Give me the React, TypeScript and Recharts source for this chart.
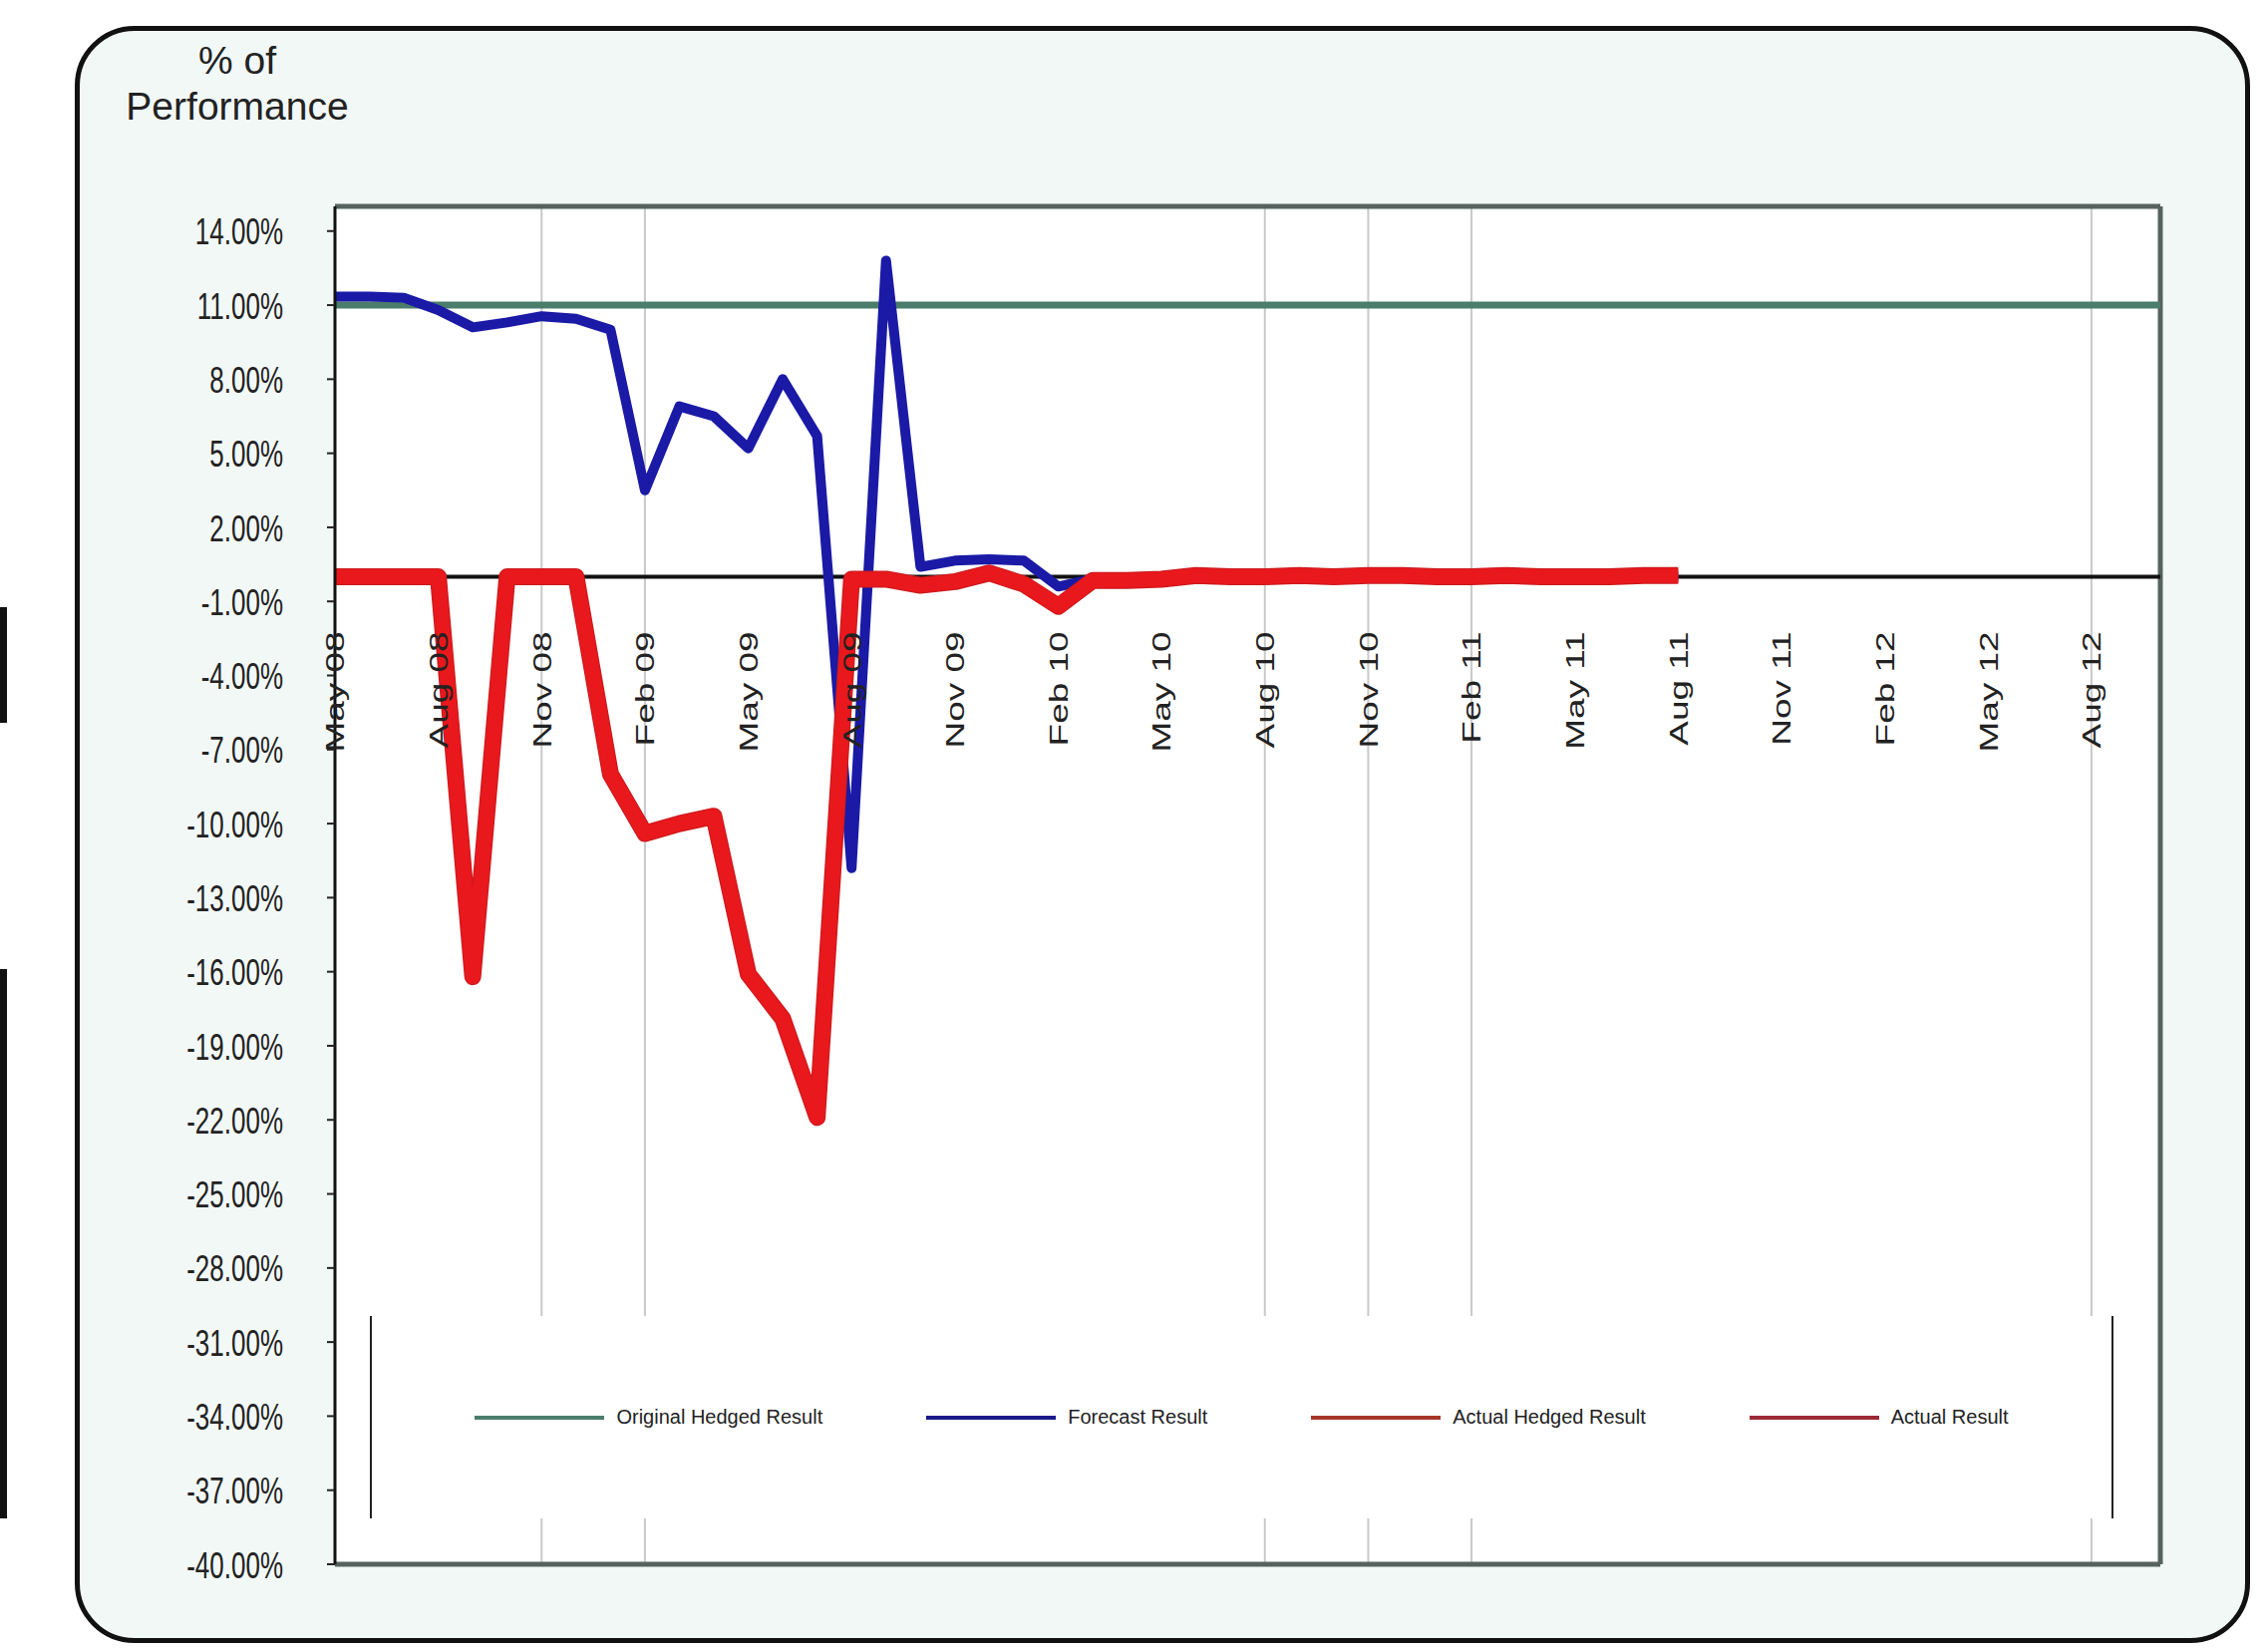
import React from 'react';
import { LineChart, Line, XAxis, YAxis, CartesianGrid, Legend, ReferenceLine } from 'recharts';

// month index 0 = May 08
const tickMonths = [0, 3, 6, 9, 12, 15, 18, 21, 24, 27, 30, 33, 36, 39, 42, 45, 48, 51];
const tickLabels = [
  'May 08', 'Aug 08', 'Nov 08', 'Feb 09', 'May 09', 'Aug 09', 'Nov 09', 'Feb 10', 'May 10',
  'Aug 10', 'Nov 10', 'Feb 11', 'May 11', 'Aug 11', 'Nov 11', 'Feb 12', 'May 12', 'Aug 12',
];
const gridMonths = [6, 9, 27, 30, 33, 51];
const yTicks = [-40, -37, -34, -31, -28, -25, -22, -19, -16, -13, -10, -7, -4, -1, 2, 5, 8, 11, 14];

// % of performance, monthly from May 08
const originalHedged = [11, 11];
const originalHedgedMonths = [0, 53];
const forecast = [
  11.35, 11.35, 11.3, 10.8, 10.1, 10.3, 10.55, 10.45, 10.0, 3.5,
  6.9, 6.5, 5.2, 8.0, 5.7, -11.8, 12.8, 0.4, 0.65, 0.7,
  0.65, -0.4, -0.1, -0.1, -0.1, 0.1, 0, 0, 0, 0,
  0, 0, 0, 0, 0, 0, 0, 0, 0, 0,
];
const actualHedged = [
  0, 0, 0, 0, -16.2, 0, 0, 0, -8.0, -10.4,
  -10.0, -9.7, -16.1, -17.9, -21.9, -0.1, -0.1, -0.35, -0.2, 0.15,
  -0.3, -1.2, -0.15, -0.15, -0.1, 0.05, 0, 0, 0.05, 0,
  0.05, 0.05, 0, 0, 0.05, 0, 0, 0, 0.05, 0.05,
];
const actual = [
  0, 0, 0, 0, -16.2, 0, 0, 0, -8.0, -10.4,
  -10.0, -9.7, -16.1, -17.9, -21.9, -0.1, -0.1, -0.35, -0.2, 0.15,
  -0.3, -1.2, -0.15, -0.15, -0.1, 0.05, 0, 0, 0.05, 0,
  0.05, 0.05, 0, 0, 0.05, 0, 0, 0, 0.05, 0.05,
];
const axisMonths = [0, 53];
const axisValues = [0, 0];

const legendItems = [
  { name: 'Original Hedged Result', color: '#4b7d6b' },
  { name: 'Forecast Result', color: '#1a1a8c' },
  { name: 'Actual Hedged Result', color: '#a8352a' },
  { name: 'Actual Result', color: '#9c2a36' },
];

const W = 2274;
const H = 1657;
const PLOT_TOP = 207;
const PLOT_BOTTOM = 1569;
const Y_MIN = -40;
const Y_MAX = 15;
const zeroY = PLOT_TOP + (PLOT_BOTTOM - PLOT_TOP) * (Y_MAX / (Y_MAX - Y_MIN));
const FONT = '"Liberation Sans", Arial, sans-serif';

const toPoints = (xs: number[], ys: number[]) => ys.map((y, i) => ({ x: xs[i], y }));
const monthly = (ys: number[]) => ys.map((y, i) => ({ x: i, y }));

const YTick = (props: any) => {
  const { x, y, payload } = props;
  return (
    <g transform={`translate(${x},${y}) scale(1,1.45)`}>
      <text textAnchor="end" dy="0.36em" fontSize={26} fill="#222" fontFamily={FONT}>
        {payload.value.toFixed(2)}%
      </text>
    </g>
  );
};

const XTick = (props: any) => {
  const { x, payload } = props;
  const label = tickLabels[tickMonths.indexOf(payload.value)];
  return (
    <g transform={`translate(${x},${zeroY + 55}) scale(1,1.42) rotate(-90)`}>
      <text textAnchor="end" dy="0.36em" fontSize={26} fill="#222" fontFamily={FONT}>
        {label}
      </text>
    </g>
  );
};

const LegendBox = () => (
  <div
    style={{
      width: 1749,
      height: 203,
      background: '#fff',
      borderLeft: '2px solid #222',
      borderRight: '2px solid #222',
      boxSizing: 'border-box',
      display: 'flex',
      alignItems: 'center',
      justifyContent: 'center',
      gap: 104,
    }}
  >
    {legendItems.map((item) => (
      <div key={item.name} style={{ display: 'flex', alignItems: 'center' }}>
        <div style={{ width: 130, height: 4, background: item.color, marginRight: 12 }} />
        <span style={{ fontFamily: FONT, fontSize: 20, color: '#222', whiteSpace: 'nowrap' }}>{item.name}</span>
      </div>
    ))}
  </div>
);

export default function App() {
  return (
    <div style={{ position: 'absolute', left: 0, top: 0, width: W, height: H, background: '#fff', overflow: 'hidden' }}>
      <div style={{ position: 'absolute', left: 0, top: 609, width: 7, height: 116, background: '#111' }} />
      <div style={{ position: 'absolute', left: 0, top: 972, width: 7, height: 551, background: '#111' }} />
      <div
        style={{
          position: 'absolute',
          left: 75,
          top: 26,
          width: 2182,
          height: 1622,
          border: '5px solid #111',
          borderRadius: 60,
          background: '#f2f8f6',
          boxSizing: 'border-box',
        }}
      />
      <div
        style={{
          position: 'absolute',
          left: 108,
          top: 38,
          width: 260,
          textAlign: 'center',
          fontFamily: FONT,
          fontSize: 39,
          lineHeight: '46px',
          color: '#222',
        }}
      >
        % of
        <br />
        Performance
      </div>
      <div style={{ position: 'absolute', left: 0, top: 0 }}>
        <LineChart width={W} height={H} margin={{ top: PLOT_TOP, right: 107, bottom: H - PLOT_BOTTOM - 30, left: 236 }}>
          <CartesianGrid fill="#ffffff" horizontal={false} verticalValues={gridMonths} stroke="#c9c9c9" strokeWidth={2} />
          <XAxis
            type="number"
            dataKey="x"
            domain={[0, 53]}
            ticks={tickMonths}
            interval={0}
            height={30}
            tick={<XTick />}
            tickLine={false}
            axisLine={{ stroke: '#56625e', strokeWidth: 5 }}
            allowDataOverflow
          />
          <YAxis
            type="number"
            domain={[Y_MIN, Y_MAX]}
            ticks={yTicks}
            interval={0}
            width={100}
            tickSize={8}
            tickMargin={44}
            tick={<YTick />}
            tickLine={{ stroke: '#222', strokeWidth: 2 }}
            axisLine={{ stroke: '#111', strokeWidth: 3 }}
            allowDataOverflow
          />
          <ReferenceLine y={Y_MAX} stroke="#56625e" strokeWidth={5} />
          <ReferenceLine x={53} stroke="#56625e" strokeWidth={5} />
          <Legend
            layout="horizontal"
            verticalAlign="middle"
            align="center"
            content={<LegendBox />}
            wrapperStyle={{ position: 'absolute', left: 371, top: 1320, width: 1749, height: 203 }}
          />
          <Line
            data={toPoints(originalHedgedMonths, originalHedged)}
            dataKey="y"
            name="Original Hedged Result"
            stroke="#4b7d6b"
            strokeWidth={7}
            dot={false}
            isAnimationActive={false}
          />
          <Line
            data={toPoints(axisMonths, axisValues)}
            dataKey="y"
            name="axis"
            legendType="none"
            stroke="#111"
            strokeWidth={4}
            dot={false}
            isAnimationActive={false}
          />
          <Line
            data={monthly(forecast)}
            dataKey="y"
            name="Forecast Result"
            stroke="#1a1aa6"
            strokeWidth={10}
            strokeLinejoin="round"
            dot={false}
            isAnimationActive={false}
          />
          <Line
            data={monthly(actualHedged)}
            dataKey="y"
            name="Actual Hedged Result"
            stroke="#c81a1e"
            strokeWidth={17}
            strokeLinejoin="round"
            dot={false}
            isAnimationActive={false}
          />
          <Line
            data={monthly(actual)}
            dataKey="y"
            name="Actual Result"
            stroke="#e8181c"
            strokeWidth={15}
            strokeLinejoin="round"
            dot={false}
            isAnimationActive={false}
          />
        </LineChart>
      </div>
    </div>
  );
}
